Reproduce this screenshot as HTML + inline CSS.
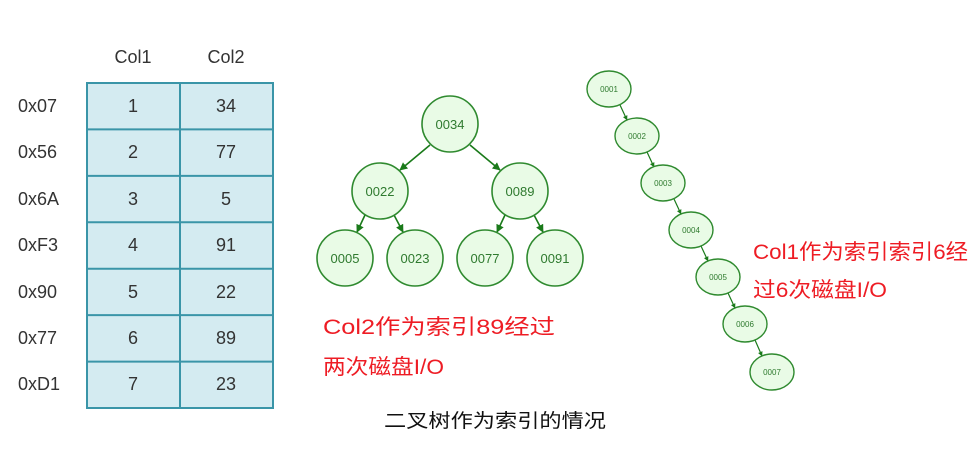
<!DOCTYPE html>
<html><head><meta charset="utf-8"><style>
html,body{margin:0;padding:0;background:#fff;}
svg{display:block;}
text{font-family:"Liberation Sans","Noto Sans CJK SC",sans-serif;}
</style></head><body>
<svg width="978" height="469" viewBox="0 0 978 469" xmlns="http://www.w3.org/2000/svg">
<defs>
<marker id="a" viewBox="0 0 10 10" refX="9" refY="5" markerWidth="5" markerHeight="5" orient="auto"><path d="M0,0L10,5L0,10z" fill="#1a7a1a"/></marker>
<marker id="b" viewBox="0 0 10 10" refX="9" refY="5" markerWidth="4" markerHeight="4" orient="auto"><path d="M0,0L10,5L0,10z" fill="#1a7a1a"/></marker>
</defs>
<!-- table -->
<rect x="87" y="83" width="186" height="325" fill="#d4ebf1" stroke="#3a95a8" stroke-width="2"/>
<line x1="180" y1="83" x2="180" y2="408" stroke="#3a95a8" stroke-width="2"/>
<g stroke="#3a95a8" stroke-width="2">
<line x1="87" y1="129.4" x2="273" y2="129.4"/><line x1="87" y1="175.9" x2="273" y2="175.9"/>
<line x1="87" y1="222.3" x2="273" y2="222.3"/><line x1="87" y1="268.7" x2="273" y2="268.7"/>
<line x1="87" y1="315.1" x2="273" y2="315.1"/><line x1="87" y1="361.6" x2="273" y2="361.6"/>
</g>
<g font-size="18" fill="#333" text-anchor="middle">
<text x="133" y="63">Col1</text><text x="226" y="63">Col2</text>
</g>
<g font-size="18" fill="#333">
<text x="18" y="112">0x07</text><text x="18" y="158">0x56</text><text x="18" y="205">0x6A</text>
<text x="18" y="251">0xF3</text><text x="18" y="298">0x90</text><text x="18" y="344">0x77</text><text x="18" y="390">0xD1</text>
</g>
<g font-size="18" fill="#333" text-anchor="middle">
<text x="133" y="112">1</text><text x="226" y="112">34</text>
<text x="133" y="158">2</text><text x="226" y="158">77</text>
<text x="133" y="205">3</text><text x="226" y="205">5</text>
<text x="133" y="251">4</text><text x="226" y="251">91</text>
<text x="133" y="298">5</text><text x="226" y="298">22</text>
<text x="133" y="344">6</text><text x="226" y="344">89</text>
<text x="133" y="390">7</text><text x="226" y="390">23</text>
</g>
<!-- binary tree -->
<g stroke="#1a7a1a" stroke-width="1.6" marker-end="url(#a)">
<line x1="430" y1="145" x2="400" y2="170"/><line x1="470" y1="145" x2="500" y2="170"/>
<line x1="365" y1="215" x2="357" y2="232"/><line x1="394" y1="215" x2="403" y2="232"/>
<line x1="505" y1="215" x2="497" y2="232"/><line x1="534" y1="215" x2="543" y2="232"/>
</g>
<g fill="#e9fbe6" stroke="#2f8a2f" stroke-width="1.6">
<circle cx="450" cy="124" r="28"/><circle cx="380" cy="191" r="28"/><circle cx="520" cy="191" r="28"/>
<circle cx="345" cy="258" r="28"/><circle cx="415" cy="258" r="28"/><circle cx="485" cy="258" r="28"/><circle cx="555" cy="258" r="28"/>
</g>
<g font-size="13" fill="#2f7a2f" text-anchor="middle">
<text x="450" y="129">0034</text><text x="380" y="196">0022</text><text x="520" y="196">0089</text>
<text x="345" y="263">0005</text><text x="415" y="263">0023</text><text x="485" y="263">0077</text><text x="555" y="263">0091</text>
</g>
<!-- chain -->
<g stroke="#1a7a1a" stroke-width="1.2" marker-end="url(#b)">
<line x1="620" y1="105" x2="627" y2="120"/><line x1="647" y1="152" x2="654" y2="167"/>
<line x1="674" y1="199" x2="681" y2="214"/><line x1="701" y1="246" x2="708" y2="261"/>
<line x1="728" y1="293" x2="735" y2="308"/><line x1="755" y1="340" x2="762" y2="356"/>
</g>
<g fill="#e9fbe6" stroke="#2f8a2f" stroke-width="1.4">
<ellipse cx="609" cy="89" rx="22" ry="18"/><ellipse cx="637" cy="136" rx="22" ry="18"/>
<ellipse cx="663" cy="183" rx="22" ry="18"/><ellipse cx="691" cy="230" rx="22" ry="18"/>
<ellipse cx="718" cy="277" rx="22" ry="18"/><ellipse cx="745" cy="324" rx="22" ry="18"/>
<ellipse cx="772" cy="372" rx="22" ry="18"/>
</g>
<g font-size="8" fill="#2f7a2f" text-anchor="middle">
<text x="609" y="92">0001</text><text x="637" y="139">0002</text><text x="663" y="186">0003</text>
<text x="691" y="233">0004</text><text x="718" y="280">0005</text><text x="745" y="327">0006</text><text x="772" y="375">0007</text>
</g>
<!-- labels -->
<g font-size="21" fill="#ee1c24">
<text x="323" y="334" textLength="232" lengthAdjust="spacingAndGlyphs">Col2作为索引89经过</text>
<text x="323" y="374" textLength="121" lengthAdjust="spacingAndGlyphs">两次磁盘I/O</text>
<text x="753" y="259" textLength="215" lengthAdjust="spacingAndGlyphs">Col1作为索引索引6经</text>
<text x="753" y="297" textLength="134" lengthAdjust="spacingAndGlyphs">过6次磁盘I/O</text>
</g>
<text x="384" y="427" font-size="19" fill="#111" textLength="222" lengthAdjust="spacingAndGlyphs">二叉树作为索引的情况</text>
</svg>
</body></html>
